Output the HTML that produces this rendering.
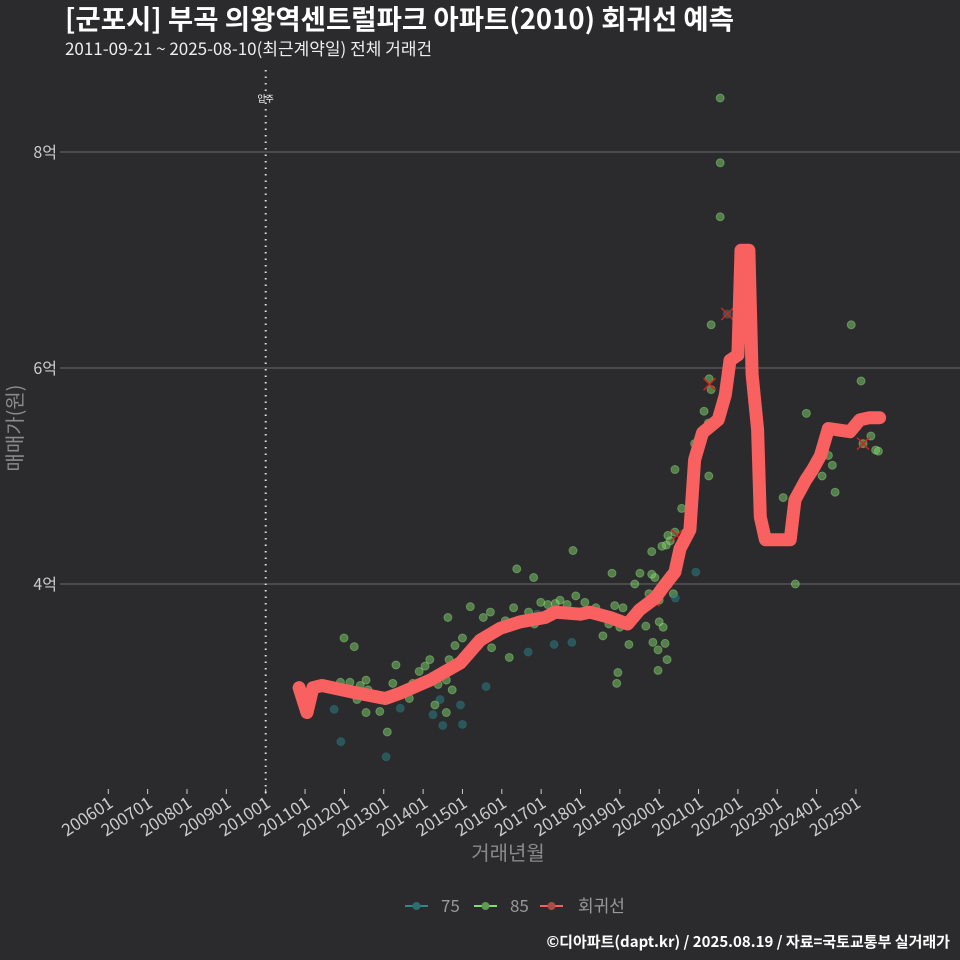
<!DOCTYPE html>
<html><head><meta charset="utf-8">
<style>
html,body{margin:0;padding:0;background:#2b2b2d;}
svg{display:block;font-family:"Noto Sans CJK KR","Liberation Sans",sans-serif;}
</style></head>
<body>
<svg id="chart" width="960" height="960" viewBox="0 0 960 960">
<rect width="960" height="960" fill="#2b2b2d"/>
<text x="65" y="29" fill="#fff" font-size="27.5" font-weight="bold">[군포시] 부곡 의왕역센트럴파크 아파트(2010) 회귀선 예측</text>
<text x="65" y="55" fill="#eee" font-size="17">2011-09-21 ~ 2025-08-10(최근계약일) 전체 거래건</text>
<g id="grid"></g>
<g id="xaxis"></g>
<g id="points"></g>
<g id="line"></g>
<text x="508" y="860" fill="#8a8a8a" font-size="20" text-anchor="middle">거래년월</text>
<text x="0" y="0" fill="#8a8a8a" font-size="20" text-anchor="middle" transform="translate(22,428) rotate(-90)">매매가(원)</text>
<g>
<g><line x1="405" y1="906" x2="428" y2="906" stroke="#2a8a8a" stroke-width="2"/><circle cx="416.5" cy="906" r="4" fill="#2a7070"/><text x="441" y="912" fill="#999" font-size="17">75</text></g>
<g><line x1="474" y1="906" x2="497" y2="906" stroke="#7ee06a" stroke-width="2"/><circle cx="485.5" cy="906" r="4" fill="#5f9a55"/><text x="510" y="912" fill="#999" font-size="17">85</text></g>
<g><line x1="540" y1="906" x2="563" y2="906" stroke="#f8615f" stroke-width="2"/><circle cx="551.5" cy="906" r="4" fill="#b04a48"/><text x="578" y="912" fill="#999" font-size="17">회귀선</text></g>
</g>
<text x="950" y="947" fill="#fff" font-size="15" font-weight="bold" text-anchor="end">©디아파트(dapt.kr) / 2025.08.19 / 자료=국토교통부 실거래가</text>
</svg>
<script>
const xTickLabels = ["200601","200701","200801","200901","201001","201101","201201","201301","201401","201501","201601","201701","201801","201901","202001","202101","202201","202301","202401","202501"];
const yTickValues = [4,6,8];
const yTickLabels = ["4억","6억","8억"];
const moveInYear = 2010;
const lineYears = [2010.85,2011.05,2011.2,2011.43,2012.2,2013.04,2013.42,2014.18,2014.95,2015.45,2015.96,2016.47,2017.1,2017.36,2018.0,2018.24,2018.75,2019.2,2019.5,2019.9,2020.14,2020.4,2020.53,2020.78,2020.9,2021.1,2021.5,2021.68,2021.8,2022.0,2022.08,2022.28,2022.36,2022.5,2022.57,2022.7,2023.33,2023.45,2023.72,2023.9,2024.1,2024.3,2024.85,2025.1,2025.35,2025.6];
const lineValues = [3.04,2.81,3.04,3.06,3.0,2.94,2.99,3.11,3.27,3.48,3.59,3.65,3.69,3.74,3.72,3.74,3.69,3.63,3.76,3.87,3.99,4.11,4.33,4.5,5.15,5.4,5.52,5.75,6.07,6.12,7.09,7.09,5.94,5.43,4.62,4.41,4.41,4.78,4.96,5.06,5.19,5.44,5.41,5.52,5.54,5.54];
const ptYears = [2011.99,2012.25,2011.91,2011.74,2011.9,2012.14,2012.4,2012.55,2012.6,2012.32,2012.55,2012.9,2013.09,2013.06,2013.34,2013.23,2013.31,2013.65,2013.42,2013.74,2013.9,2014.05,2014.17,2014.38,2014.25,2014.43,2014.59,2014.5,2014.59,2014.74,2014.95,2015.0,2014.66,2014.81,2014.63,2015.0,2015.2,2015.38,2015.53,2015.71,2015.89,2015.74,2016.19,2016.09,2016.3,2016.38,2016.53,2016.68,2016.81,2016.83,2016.99,2016.67,2017.17,2017.33,2017.36,2017.48,2017.66,2017.81,2017.78,2017.88,2018.11,2018.22,2018.39,2018.57,2018.72,2018.8,2018.87,2018.9,2019.0,2019.08,2018.95,2018.92,2019.23,2019.38,2019.51,2019.66,2019.74,2019.81,2019.84,2019.89,2019.97,2019.97,2020.0,2020.0,2020.1,2020.18,2020.28,2020.36,2020.41,2020.23,2021.55,2021.55,2021.55,2021.73,2021.32,2021.27,2021.32,2021.14,2021.25,2020.9,2020.4,2021.26,2020.57,2020.75,2020.4,2020.22,2020.07,2019.81,2019.38,2020.93,2023.15,2023.46,2023.74,2024.4,2024.47,2024.14,2024.3,2024.88,2025.13,2025.38,2025.18,2025.5,2025.57,2012.9,2014.3,2015.6,2016.9,2020.15,2020.2];
const ptValues = [3.50,3.42,2.54,2.84,3.09,3.09,3.06,3.11,3.02,2.93,2.81,2.82,2.63,2.40,2.99,3.08,3.25,2.94,2.85,3.08,3.19,3.24,3.30,3.07,2.79,2.93,2.81,2.69,3.11,3.02,2.88,2.70,3.30,3.43,3.69,3.50,3.79,3.42,3.69,3.74,3.59,3.41,3.32,3.66,3.78,4.14,3.67,3.74,4.06,3.63,3.83,3.37,3.81,3.44,3.82,3.85,3.81,4.31,3.46,3.89,3.83,3.74,3.78,3.52,3.63,4.10,3.80,3.68,3.60,3.78,3.18,3.08,3.44,3.71,4.10,3.61,3.91,4.30,3.46,4.06,3.20,3.39,3.65,3.85,3.60,4.36,4.40,3.91,3.87,3.99,8.5,7.9,7.4,6.5,6.4,5.9,5.8,5.6,5.49,5.3,5.06,5.0,4.7,4.59,4.48,4.45,4.35,4.09,4.0,4.11,4.80,4.0,5.58,5.10,4.85,5.0,5.19,6.4,5.88,5.37,5.30,5.24,5.23,2.95,2.88,3.05,3.72,3.45,3.30];
const ptTypes = [85,85,75,75,85,85,85,85,85,85,85,85,85,75,85,85,85,85,75,85,85,85,85,85,75,75,85,75,85,85,75,75,85,85,85,85,85,85,85,85,85,85,85,85,85,85,85,85,85,85,85,75,85,75,85,85,85,85,75,85,85,85,85,85,85,85,85,85,85,85,85,85,85,85,85,85,85,85,85,85,85,85,85,85,85,85,85,85,75,75,85,85,85,75,85,85,85,85,85,85,85,85,85,85,85,85,85,85,85,75,85,85,85,85,85,85,85,85,85,85,85,85,85,75,85,75,75,85,85];
const crossYears = [2021.73,2021.28,2025.18,2020.45,2019.85];
const crossValues = [6.5,5.85,5.30,4.45,3.85];

const NS="http://www.w3.org/2000/svg";
const X0=108.3, STEP=39.35, Y4=584, PX=108;
function xs(t){return X0+(t-2006)*STEP;}
function ys(v){return Y4-(v-4)*PX;}
function mk(tag,attrs,parent){const e=document.createElementNS(NS,tag);for(const k in attrs)e.setAttribute(k,attrs[k]);parent.appendChild(e);return e;}

const grid=document.getElementById('grid');
yTickValues.forEach((v,i)=>{
  const gl=mk('line',{x1:60,x2:960,y1:ys(v),y2:ys(v),stroke:'#6a6a6a','stroke-width':1},grid);
  
  
  const t=mk('text',{x:57,y:ys(v)+6,fill:'#ccc','font-size':16,'text-anchor':'end'},grid);
  t.textContent=yTickLabels[i];
  
  
});
const xa=document.getElementById('xaxis');
xTickLabels.forEach((lab,i)=>{
  const x=xs(2006+i);
  const tk=mk('line',{x1:x,x2:x,y1:789,y2:794,stroke:'#ccc','stroke-width':1},xa);
  
  
  const t=mk('text',{x:0,y:0,fill:'#ccc','font-size':17,'text-anchor':'end',transform:`translate(${x+6},806) rotate(-33)`},xa);
  t.textContent=lab;
  
  
});
const mx=xs(moveInYear);
const ml=mk('line',{x1:mx,x2:mx,y1:70,y2:793,stroke:'#ddd','stroke-width':2,'stroke-dasharray':'1.5 5'},xa);


const mt=mk('text',{x:mx,y:102,fill:'#fff','font-size':9,'text-anchor':'middle'},xa);
mt.textContent='입주';



const pg=document.getElementById('points');
ptYears.forEach((t,i)=>{
  const is75=ptTypes[i]===75;
  const c=mk('circle',{cx:xs(t),cy:ys(ptValues[i]),r:4,fill:is75?'#2b7a80':'#7ed36a','fill-opacity':is75?0.55:0.5,stroke:is75?'#2b7a80':'#9be58a','stroke-opacity':0.4,'stroke-width':1},pg);
  
  
});
crossYears.forEach((t,i)=>{
  const x=xs(t),y=ys(crossValues[i]);
  const p=mk('path',{d:`M${x-6},${y-6}L${x+6},${y+6}M${x-6},${y+6}L${x+6},${y-6}`,stroke:'#d0251e','stroke-width':1.5},pg);
  
  
});
const lg=document.getElementById('line');
const d=lineYears.map((t,i)=>(i?'L':'M')+xs(t).toFixed(1)+','+ys(lineValues[i]).toFixed(1)).join('');
const pl=mk('path',{d:d,fill:'none',stroke:'#f8615f','stroke-width':13,'stroke-linejoin':'round','stroke-linecap':'round'},lg);


</script>
</body></html>
